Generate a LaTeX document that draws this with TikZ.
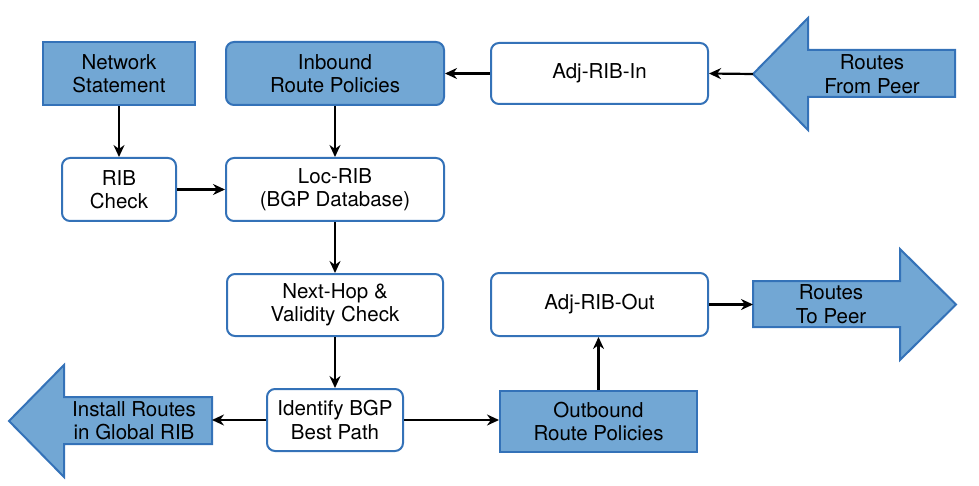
\documentclass[tikz,border=0pt]{standalone}
\usepackage{fontspec}
\setmainfont{TeX Gyre Heros}
\usetikzlibrary{arrows.meta}
\definecolor{bfill}{RGB}{114,167,212}
\definecolor{bline}{RGB}{52,114,184}
\tikzset{
  base/.style={draw=bline, line width=2pt, align=center, inner sep=0pt,
    font=\fontsize{20.5}{23.5}\selectfont},
  wbox/.style={base, fill=white, rounded corners=8pt},
  fbox/.style={base, fill=bfill},
  frbox/.style={fbox, rounded corners=8pt},
  txt/.style={align=center, inner sep=0pt, font=\fontsize{20.5}{23.5}\selectfont},
  conn/.style={-{Stealth[length=12pt,width=11pt]}, line width=2.2pt},
}
\begin{document}
\begin{tikzpicture}[x=1pt,y=-1pt]
\useasboundingbox (0,0) rectangle (979,486);
% boxes
\node[fbox, minimum width=152pt, minimum height=63pt] (net) at (119,73.5) {Network\\Statement};
\node[frbox, minimum width=218pt, minimum height=63pt] (inb) at (335,73.5) {Inbound\\Route Policies};
\node[wbox, minimum width=217pt, minimum height=61pt] (adjin) at (599.5,73.5) {Adj-RIB-In};
\node[wbox, minimum width=114pt, minimum height=63pt] (rib) at (119,189.5) {RIB\\Check};
\node[wbox, minimum width=218pt, minimum height=63pt] (loc) at (335,189.5) {Loc-RIB\\(BGP Database)};
\node[wbox, minimum width=216pt, minimum height=62pt] (nh) at (335,305) {Next-Hop \&\\Validity Check};
\node[wbox, minimum width=217pt, minimum height=63pt] (adjout) at (599.5,304.5) {Adj-RIB-Out};
\node[wbox, minimum width=136pt, minimum height=62pt] (id) at (335,420) {Identify BGP\\Best Path};
\node[fbox, minimum width=197pt, minimum height=61pt] (outb) at (598.5,421.5) {Outbound\\Route Policies};
% big arrows
\draw[fbox] (753,74) -- (808,18) -- (808,50) -- (955,50) -- (955,97) -- (808,97) -- (808,130) -- cycle;
\node[txt] (rfp) at (872,74) {Routes\\From Peer};
\coordinate (rfptip) at (753,74);
\draw[fbox] (753,281) -- (900,281) -- (900,249) -- (956,304.5) -- (900,360) -- (900,327) -- (753,327) -- cycle;
\node[txt] (rtp) at (831,304) {Routes\\To Peer};
\coordinate (rtpin) at (753,304.5);
\draw[fbox] (9,421) -- (64,365) -- (64,397) -- (212,397) -- (212,444) -- (64,444) -- (64,477) -- cycle;
\node[txt] (inst) at (134,420.5) {Install Routes\\in Global RIB};
\coordinate (instend) at (212,420);
% connectors
\draw[conn] (rfptip) -- (adjin.east);
\draw[conn] (adjin.west) -- (inb.east);
\draw[conn] (net.south) -- (rib.north);
\draw[conn] (inb.south) -- (loc.north);
\draw[conn] (rib.east) -- (loc.west);
\draw[conn] (loc.south) -- (nh.north);
\draw[conn] (nh.south) -- (id.north);
\draw[conn] (id.west) -- (instend);
\draw[conn] (id.east) -- (outb.west |- id.east);
\draw[conn] (outb.north) -- (outb.north |- adjout.south);
\draw[conn] (adjout.east) -- (rtpin);
\end{tikzpicture}
\end{document}
